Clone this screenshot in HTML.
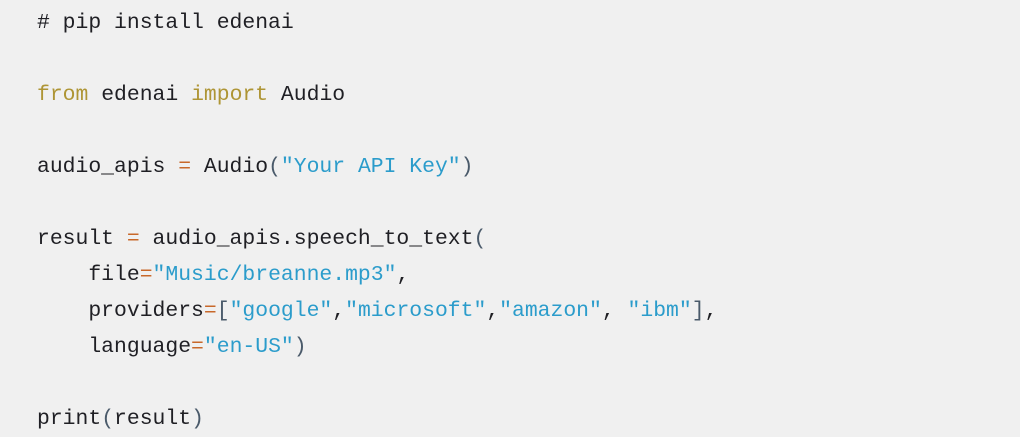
<!DOCTYPE html>
<html><head><style>
html,body{margin:0;padding:0;background:#f0f0f0;width:1020px;height:435px;overflow:hidden}
pre{position:absolute;left:37px;top:5px;margin:0;font-family:"Liberation Mono","DejaVu Sans Mono",monospace;font-size:21.4px;line-height:36px;color:#1f1f24}
.k{color:#ae9535}.o{color:#c8682a}.s{color:#2b9ccb}.p{color:#4a5a6a}
</style></head><body>
<pre># pip install edenai

<span class="k">from</span> edenai <span class="k">import</span> Audio

audio_apis <span class="o">=</span> Audio<span class="p">(</span><span class="s">"Your API Key"</span><span class="p">)</span>

result <span class="o">=</span> audio_apis.speech_to_text<span class="p">(</span>
    file<span class="o">=</span><span class="s">"Music/breanne.mp3"</span>,
    providers<span class="o">=</span><span class="p">[</span><span class="s">"google"</span>,<span class="s">"microsoft"</span>,<span class="s">"amazon"</span>, <span class="s">"ibm"</span><span class="p">]</span>,
    language<span class="o">=</span><span class="s">"en-US"</span><span class="p">)</span>

print<span class="p">(</span>result<span class="p">)</span></pre>
</body></html>
